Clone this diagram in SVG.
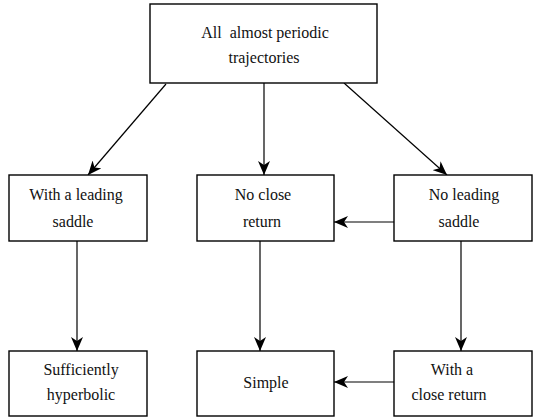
<svg xmlns="http://www.w3.org/2000/svg" width="536" height="417" viewBox="0 0 536 417">
<style>
rect{fill:#fff;stroke:#000;stroke-width:1.4}
.t{font-family:'Liberation Serif',serif !important;font-size:16px;fill:#111;text-anchor:middle}
.c line{stroke:#000;stroke-width:1.2;marker-end:url(#ah)}
</style>
<defs>
<marker id="ah" markerUnits="userSpaceOnUse" markerWidth="14" markerHeight="12" viewBox="0 0 14 12" refX="14" refY="6" orient="auto">
<path d="M0,0 L14,6 L0,12 L4,6 Z" fill="#000"/>
</marker>
</defs>
<rect x="0" y="0" width="536" height="417" style="stroke:none"/>
<g class="c" id="connectors">
<line x1="166" y1="84" x2="88" y2="175"/>
<line x1="264" y1="83" x2="264" y2="175"/>
<line x1="344" y1="83" x2="447" y2="175"/>
<line x1="394" y1="222" x2="334" y2="222"/>
<line x1="77" y1="241" x2="77" y2="351"/>
<line x1="260" y1="241" x2="260" y2="351"/>
<line x1="461" y1="241" x2="461" y2="351"/>
<line x1="394" y1="382" x2="334" y2="382"/>
</g>
<g id="all"><rect x="150" y="4" width="227" height="79"/><text class="t" x="265" y="38" style="font-family:'Liberation Serif',serif">All&#160; almost periodic</text><text class="t" x="264" y="63" style="font-family:'Liberation Serif',serif">trajectories</text></g>
<g id="leading"><rect x="9" y="175" width="138" height="66"/><text class="t" x="76" y="200" style="font-family:'Liberation Serif',serif">With a leading</text><text class="t" x="73" y="227" style="font-family:'Liberation Serif',serif">saddle</text></g>
<g id="noclose"><rect x="197" y="175" width="137" height="66"/><text class="t" x="263" y="200" style="font-family:'Liberation Serif',serif">No close</text><text class="t" x="262" y="227" style="font-family:'Liberation Serif',serif">return</text></g>
<g id="noleading"><rect x="394" y="175" width="138" height="66"/><text class="t" x="464" y="200" style="font-family:'Liberation Serif',serif">No leading</text><text class="t" x="459" y="227" style="font-family:'Liberation Serif',serif">saddle</text></g>
<g id="suff"><rect x="9" y="351" width="138" height="65"/><text class="t" x="81" y="375" style="font-family:'Liberation Serif',serif">Sufficiently</text><text class="t" x="81" y="400" style="font-family:'Liberation Serif',serif">hyperbolic</text></g>
<g id="simple"><rect x="197" y="351" width="137" height="65"/><text class="t" x="266" y="388" style="font-family:'Liberation Serif',serif">Simple</text></g>
<g id="withclose"><rect x="394" y="351" width="138" height="65"/><text class="t" x="452" y="375" style="font-family:'Liberation Serif',serif">With a</text><text class="t" x="449" y="400" style="font-family:'Liberation Serif',serif">close return</text></g>
</svg>
